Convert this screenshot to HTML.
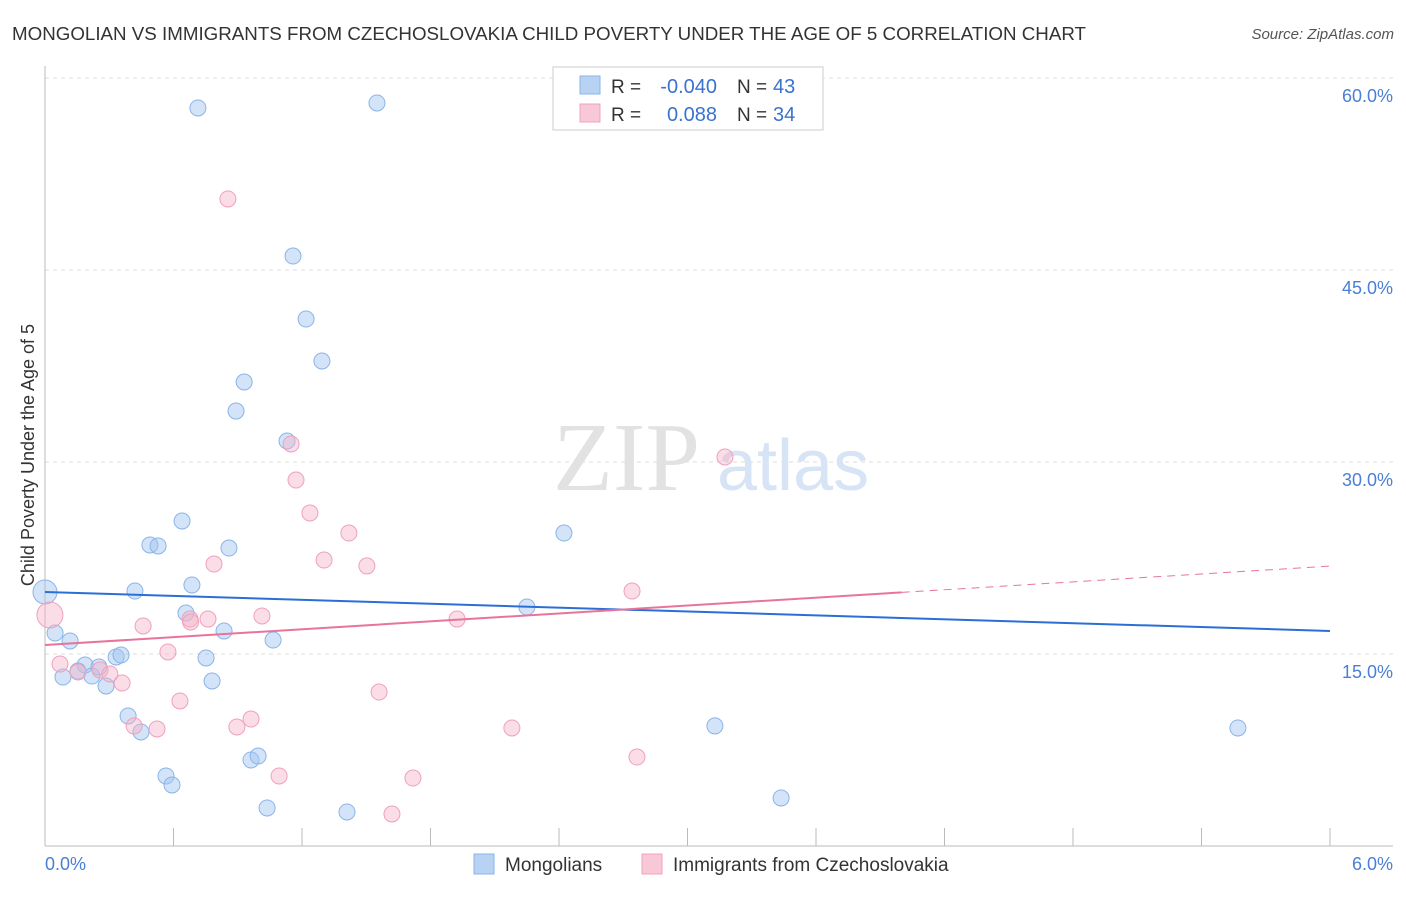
<!DOCTYPE html>
<html><head><meta charset="utf-8"><style>
body{margin:0;background:#fff;font-family:"Liberation Sans",sans-serif;}
svg text{font-family:"Liberation Sans",sans-serif;}
</style></head><body>
<svg id="chart" width="1406" height="892" viewBox="0 0 1406 892" xmlns="http://www.w3.org/2000/svg">
<text x="12" y="40" font-size="18" fill="#333" textLength="1074" lengthAdjust="spacingAndGlyphs">MONGOLIAN VS IMMIGRANTS FROM CZECHOSLOVAKIA CHILD POVERTY UNDER THE AGE OF 5 CORRELATION CHART</text>
<text x="1394" y="39" font-size="15" fill="#555" text-anchor="end" font-style="italic">Source: ZipAtlas.com</text>
<g id="grid"></g>
<text x="553" y="490" font-size="98" fill="#e2e2e2" style="font-family:'Liberation Serif',serif">ZIP</text>
<text x="717" y="490" font-size="72" fill="#d6e4f5">atlas</text>
<g id="marks"></g>
<text transform="translate(34,455) rotate(-90)" font-size="18" fill="#333" text-anchor="middle">Child Poverty Under the Age of 5</text>
<text x="45" y="870" font-size="18" fill="#4a7fd4">0.0%</text>
<text x="1393" y="870" font-size="18" fill="#4a7fd4" text-anchor="end">6.0%</text>
<g>
<rect x="553" y="67" width="270" height="63" fill="#fff" stroke="#ccc"/>
<rect x="580" y="76" width="20" height="18" fill="#b8d2f4" stroke="#8ab4e8"/>
<rect x="580" y="104" width="20" height="18" fill="#f8c8d6" stroke="#f0a0bc"/>
<text x="611" y="93" font-size="19" fill="#333">R =</text>
<text x="717" y="93" font-size="20" fill="#3a72d0" text-anchor="end">-0.040</text>
<text x="737" y="93" font-size="19" fill="#333">N =</text>
<text x="773" y="93" font-size="20" fill="#3a72d0">43</text>
<text x="611" y="121" font-size="19" fill="#333">R =</text>
<text x="717" y="121" font-size="20" fill="#3a72d0" text-anchor="end">0.088</text>
<text x="737" y="121" font-size="19" fill="#333">N =</text>
<text x="773" y="121" font-size="20" fill="#3a72d0">34</text>
</g>
<g>
<rect x="474" y="854" width="20" height="20" fill="#b8d2f4" stroke="#8ab4e8"/>
<text x="505" y="871" font-size="19" fill="#333">Mongolians</text>
<rect x="642" y="854" width="20" height="20" fill="#f8c8d6" stroke="#f0a0bc"/>
<text x="673" y="871" font-size="19" fill="#333">Immigrants from Czechoslovakia</text>
</g>
</svg>
<script>
const yTicks=[15,30,45,60];
const yTickLabels=["15.0%","30.0%","45.0%","60.0%"];
const blueX=[0,.047,.117,.084,.187,.219,.252,.154,.285,.332,.355,.388,.448,.42,.49,.528,.64,.686,.658,.565,.593,.714,.752,.78,.836,.859,.892,.93,.962,.995,1.037,1.065,1.13,1.158,1.219,1.293,1.41,1.55,2.25,2.423,3.128,3.437,5.57];
const blueY=[19.84,16.64,16.02,13.2,14.14,13.28,13.98,13.67,12.5,14.77,14.92,10.16,8.91,19.92,23.52,23.44,25.39,20.39,18.2,5.47,4.77,57.66,14.69,12.89,16.8,23.28,33.98,36.25,6.72,7.03,2.97,16.09,31.64,46.09,41.17,37.89,2.66,58.05,18.67,24.45,9.38,3.75,9.22];
const pinkX=[.023,.07,.154,.257,.303,.36,.416,.458,.523,.574,.63,.677,.761,.789,.854,.896,.962,1.013,1.093,1.149,1.172,1.237,1.303,1.419,1.503,1.56,1.62,1.718,1.924,2.18,2.741,2.764,3.175,.68];
const pinkY=[18.05,14.22,13.59,13.75,13.44,12.73,9.38,17.19,9.14,15.16,11.33,17.73,17.73,22.03,50.55,9.3,9.92,17.97,5.47,31.41,28.59,26.02,22.34,24.45,21.88,12.03,2.5,5.31,17.73,9.22,19.92,6.95,30.39,17.5];
const blueTrend=[19.84,16.8];
const pinkTrend=[15.7,21.87];
const pinkSolidEnd=4.0;
const NS="http://www.w3.org/2000/svg";
const X=v=>45+v/6*1285;
const Y=v=>846-v/15*192;
function mk(t,a,p){const e=document.createElementNS(NS,t);for(const k in a)e.setAttribute(k,a[k]);p.appendChild(e);return e;}
const grid=document.getElementById('grid');
const marks=document.getElementById('marks');
yTicks.forEach((t,i)=>{
 const l=mk('line',{x1:45,x2:1393,y1:Y(t),y2:Y(t),stroke:'#ddd','stroke-dasharray':'4,4'},grid);
 
 
 const tx=mk('text',{x:1393,y:Y(t)+24,'font-size':18,fill:'#4a7fd4','text-anchor':'end'},grid);
 tx.textContent=yTickLabels[i];
 
 
});
const ax=mk('line',{x1:45,x2:1393,y1:846,y2:846,stroke:'#bbb'},grid);


const ay=mk('line',{x1:45,x2:45,y1:66,y2:846,stroke:'#bbb'},grid);


for(let i=0;i<=10;i++){const t=mk('line',{x1:X(i*0.6),x2:X(i*0.6),y1:828,y2:846,stroke:'#bbb'},grid);
 
 }
blueX.forEach((x,i)=>{const c=mk('circle',{cx:X(x),cy:Y(blueY[i]),r:i==0?12:8,fill:'rgba(160,196,240,0.45)',stroke:'#8ab4e8','stroke-width':1},marks);
 
 });
pinkX.forEach((x,i)=>{const c=mk('circle',{cx:X(x),cy:Y(pinkY[i]),r:i==0?13:8,fill:'rgba(245,180,200,0.45)',stroke:'#f0a0bc','stroke-width':1},marks);
 
 });
const bl=mk('line',{x1:X(0),y1:Y(blueTrend[0]),x2:X(6),y2:Y(blueTrend[1]),stroke:'#2b6fd6','stroke-width':2},marks);


const pe=pinkTrend[0]+(pinkTrend[1]-pinkTrend[0])*pinkSolidEnd/6;
const pl=mk('line',{x1:X(0),y1:Y(pinkTrend[0]),x2:X(pinkSolidEnd),y2:Y(pe),stroke:'#e8749c','stroke-width':2},marks);


const pd=mk('line',{x1:X(pinkSolidEnd),y1:Y(pe),x2:X(6),y2:Y(pinkTrend[1]),stroke:'#e8749c','stroke-width':1,'stroke-dasharray':'8,6'},marks);


</script>
</body></html>
